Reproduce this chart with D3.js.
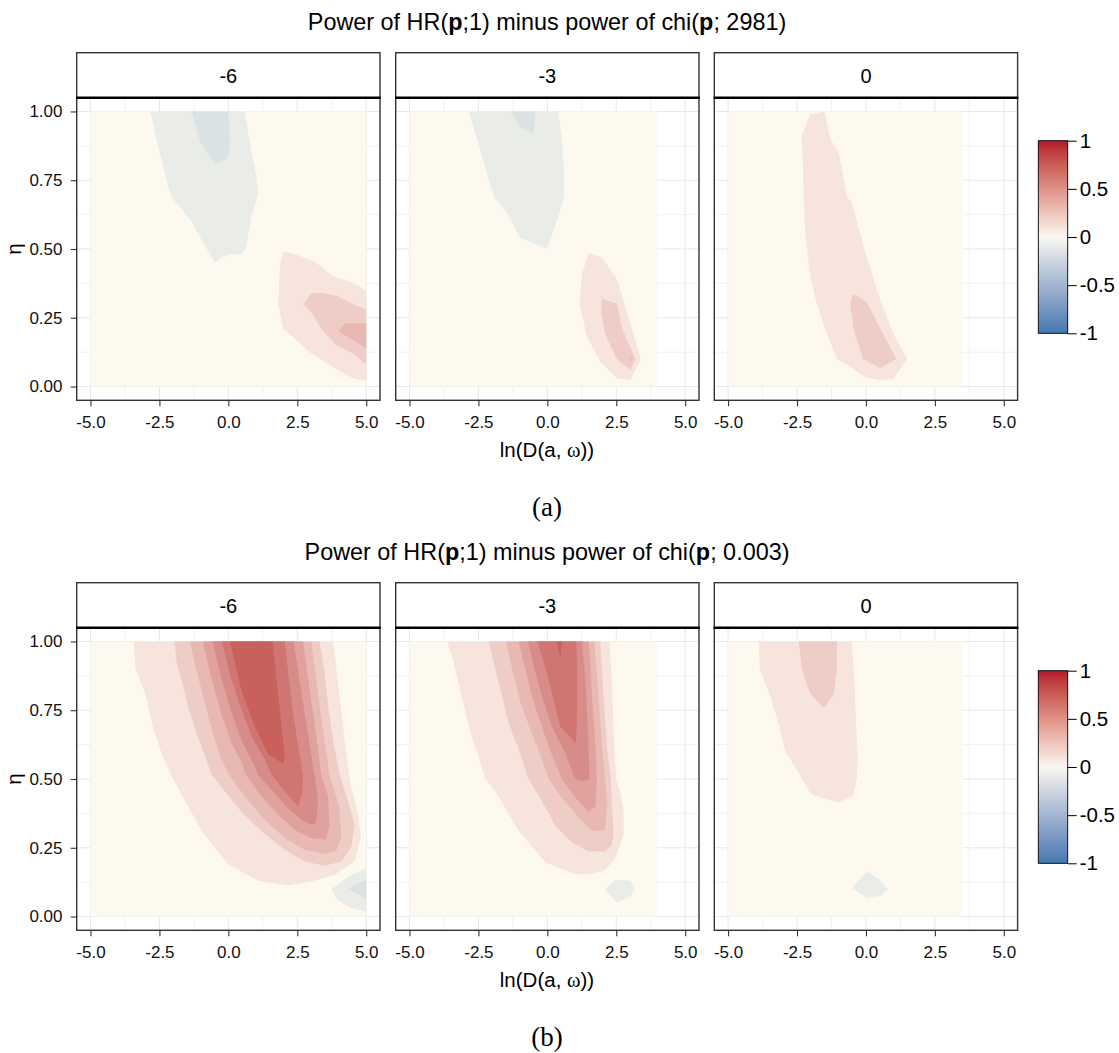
<!DOCTYPE html>
<html>
<head>
<meta charset="utf-8">
<script src="https://cdn.jsdelivr.net/npm/d3@7"></script>
<style>
  body { margin: 0; background: #fff; }
</style>
</head>
<body>
<div id="chart"></div>
<script>
// facet labels and how far the computed grid goes in x for each facet
const facets = ["-6", "-3", "0"];
const gridXMax = [5, 4, 3.5];

const xTicks = [-5, -2.5, 0, 2.5, 5];
const xMinor = [-3.75, -1.25, 1.25, 3.75];
const yTicks = [0, 0.25, 0.5, 0.75, 1];
const yMinor = [0.125, 0.375, 0.625, 0.875];
const legendTicks = [1, 0.5, 0, -0.5, -1];

const titleEnds = ["2981", "0.003"];
const figLabels = ["(a)", "(b)"];

// fill of each contour level as it shows in the picture
const levels = [-0.2, -0.1, 0, 0.1, 0.2, 0.3, 0.4, 0.5, 0.6, 0.7];
const levelColors = ["#dae2e4", "#eaece8", "#fdf9ef", "#f6e4dd", "#efcdc7", "#e8b8b3", "#e0a29f", "#d88c89", "#cf7672", "#c8605c"];

// contour bands: region where value >= level (or <= level for negatives)
const bandsA6 = [
  {level: -0.1, pts: [[-2.83,1.0],[-2.49,0.85],[-2.11,0.70],[-1.99,0.68],[-1.33,0.60],[-0.90,0.52],[-0.48,0.45],[-0.24,0.47],[0.0,0.48],[0.48,0.48],[0.64,0.50],[0.84,0.62],[1.08,0.70],[1.02,0.76],[0.76,0.90],[0.60,1.0]]},
  {level: -0.2, pts: [[-1.33,1.0],[-1.02,0.89],[-0.48,0.81],[0.0,0.83],[0.06,0.90],[0.0,1.0]]},
  {level: 0.1, pts: [[1.99,0.49],[2.47,0.48],[3.19,0.45],[3.80,0.40],[4.46,0.38],[5.0,0.35],[5.0,0.02],[4.52,0.03],[3.80,0.07],[3.01,0.12],[2.35,0.18],[1.99,0.21],[1.81,0.30],[1.87,0.44]]},
  {level: 0.2, pts: [[2.73,0.30],[3.01,0.34],[3.43,0.34],[3.92,0.33],[4.52,0.30],[5.0,0.28],[5.0,0.08],[4.52,0.12],[3.92,0.15],[3.37,0.21],[3.01,0.27]]},
  {level: 0.3, pts: [[3.98,0.20],[4.22,0.23],[5.0,0.23],[5.0,0.14]]}
];
const bandsA3 = [
  {level: -0.1, pts: [[-2.85,1.0],[-2.55,0.90],[-1.94,0.69],[-1.52,0.64],[-0.98,0.54],[-0.01,0.50],[0.47,0.64],[0.62,0.69],[0.59,0.81],[0.53,0.90],[0.39,1.0]]},
  {level: -0.2, pts: [[-1.32,1.0],[-0.95,0.94],[-0.50,0.92],[-0.43,1.0]]},
  {level: 0.1, pts: [[1.50,0.485],[1.98,0.47],[2.52,0.39],[2.89,0.27],[3.39,0.10],[3.01,0.024],[2.52,0.03],[1.92,0.09],[1.44,0.18],[1.17,0.30],[1.26,0.41]]},
  {level: 0.2, pts: [[1.98,0.32],[2.52,0.30],[2.71,0.21],[3.19,0.10],[3.01,0.06],[2.52,0.10],[2.10,0.19],[1.95,0.27]]},
  {level: 0.3, pts: [[2.95,0.105],[3.06,0.11],[3.03,0.09]]}
];
const bandsA0 = [
  {level: 0.1, pts: [[-2.02,0.99],[-1.51,1.0],[-1.29,0.90],[-0.99,0.85],[-0.69,0.69],[-0.51,0.67],[-0.02,0.485],[0.52,0.315],[1.0,0.19],[1.49,0.10],[1.0,0.027],[0.52,0.024],[-0.02,0.034],[-0.51,0.067],[-1.05,0.10],[-1.41,0.19],[-1.78,0.30],[-2.02,0.40],[-2.20,0.56],[-2.26,0.68],[-2.29,0.82],[-2.34,0.91]]},
  {level: 0.2, pts: [[-0.47,0.337],[0.01,0.31],[0.52,0.21],[1.10,0.10],[0.52,0.067],[-0.11,0.10],[-0.45,0.21],[-0.57,0.30]]}
];
const bandsB6 = [
  {level: 0.1, pts: [[-3.43,1.0],[-3.37,0.90],[-3.01,0.81],[-2.95,0.79],[-2.77,0.70],[-2.41,0.59],[-2.05,0.51],[-1.57,0.42],[-0.96,0.31],[0.0,0.19],[1.08,0.13],[2.17,0.113],[3.01,0.127],[3.86,0.152],[4.58,0.20],[4.80,0.29],[4.70,0.37],[4.46,0.467],[4.40,0.50],[4.22,0.64],[4.08,0.76],[3.92,0.90],[3.80,1.0]]},
  {level: 0.2, pts: [[-1.96,1.0],[-1.87,0.92],[-1.69,0.86],[-1.45,0.76],[-1.20,0.68],[-0.84,0.58],[-0.60,0.515],[-0.12,0.455],[0.48,0.38],[1.20,0.31],[2.05,0.242],[2.77,0.20],[3.49,0.185],[4.10,0.20],[4.46,0.255],[4.58,0.333],[4.34,0.418],[4.04,0.515],[3.80,0.64],[3.63,0.76],[3.47,0.90],[3.31,1.0]]},
  {level: 0.3, pts: [[-1.39,1.0],[-1.20,0.91],[-0.96,0.82],[-0.66,0.70],[-0.30,0.58],[0.02,0.515],[0.60,0.436],[1.32,0.351],[2.05,0.285],[2.77,0.242],[3.49,0.227],[3.92,0.24],[4.10,0.29],[4.02,0.40],[3.67,0.515],[3.40,0.70],[3.19,0.86],[3.01,1.0]]},
  {level: 0.4, pts: [[-0.93,1.0],[-0.60,0.86],[-0.24,0.73],[0.12,0.63],[0.48,0.56],[0.63,0.515],[1.20,0.436],[1.81,0.37],[2.41,0.315],[3.01,0.285],[3.55,0.279],[3.67,0.333],[3.61,0.44],[3.37,0.515],[3.13,0.70],[2.90,0.86],[2.71,1.0]]},
  {level: 0.5, pts: [[-0.57,1.0],[-0.24,0.86],[0.12,0.74],[0.48,0.64],[0.96,0.545],[1.08,0.515],[1.57,0.46],[2.17,0.394],[2.65,0.352],[3.07,0.333],[3.19,0.345],[3.25,0.42],[3.13,0.515],[2.86,0.68],[2.58,0.86],[2.37,1.0]]},
  {level: 0.6, pts: [[-0.24,1.0],[0.12,0.86],[0.48,0.75],[0.84,0.655],[1.33,0.57],[1.57,0.515],[2.05,0.455],[2.53,0.40],[2.68,0.455],[2.71,0.515],[2.53,0.62],[2.35,0.74],[2.17,0.885],[2.05,1.0]]},
  {level: 0.7, pts: [[0.06,1.0],[0.48,0.82],[0.96,0.69],[1.45,0.59],[1.99,0.555],[2.05,0.58],[1.93,0.69],[1.75,0.86],[1.60,1.0]]},
  {level: -0.1, pts: [[3.73,0.097],[4.34,0.145],[5.0,0.176],[5.0,0.018],[4.46,0.03],[3.98,0.06]]},
  {level: -0.2, pts: [[4.34,0.10],[5.0,0.135],[5.0,0.065]]}
];
const bandsB3 = [
  {level: 0.1, pts: [[-3.64,1.0],[-3.45,0.945],[-3.15,0.82],[-2.91,0.715],[-2.67,0.63],[-2.43,0.56],[-2.25,0.50],[-1.88,0.455],[-1.52,0.394],[-1.10,0.32],[-0.50,0.248],[-0.05,0.196],[0.65,0.168],[1.01,0.155],[1.50,0.154],[2.04,0.166],[2.45,0.21],[2.77,0.297],[2.77,0.38],[2.64,0.455],[2.49,0.50],[2.40,0.68],[2.34,0.86],[2.25,1.0]]},
  {level: 0.2, pts: [[-2.13,1.0],[-1.94,0.92],[-1.64,0.80],[-1.40,0.70],[-1.04,0.61],[-0.68,0.50],[-0.31,0.44],[0.29,0.33],[0.89,0.27],[1.50,0.236],[2.10,0.236],[2.34,0.26],[2.40,0.30],[2.34,0.40],[2.30,0.50],[2.16,0.62],[2.04,0.80],[1.92,1.0]]},
  {level: 0.3, pts: [[-1.50,1.0],[-1.28,0.90],[-0.98,0.78],[-0.62,0.68],[-0.19,0.57],[0.05,0.50],[0.53,0.43],[1.14,0.36],[1.62,0.31],[2.10,0.315],[2.16,0.42],[2.10,0.50],[1.98,0.62],[1.86,0.80],[1.70,1.0]]},
  {level: 0.4, pts: [[-1.04,1.0],[-0.80,0.90],[-0.50,0.78],[-0.13,0.67],[0.23,0.57],[0.53,0.50],[0.95,0.44],[1.50,0.38],[1.74,0.40],[1.80,0.50],[1.74,0.62],[1.62,0.80],[1.50,1.0]]},
  {level: 0.5, pts: [[-0.70,1.0],[-0.43,0.885],[-0.19,0.80],[0.17,0.69],[0.65,0.594],[1.01,0.50],[1.25,0.49],[1.53,0.50],[1.47,0.68],[1.38,0.86],[1.26,1.0]]},
  {level: 0.6, pts: [[-0.35,1.0],[0.05,0.86],[0.47,0.69],[1.04,0.63],[1.08,0.74],[1.08,0.92],[1.04,1.0]]},
  {level: 0.7, pts: [[0.35,1.0],[0.53,1.0],[0.47,0.945]]},
  {level: -0.1, pts: [[2.10,0.097],[2.46,0.133],[3.01,0.13],[3.16,0.10],[3.01,0.073],[2.52,0.051]]}
];
const bandsB0 = [
  {level: 0.1, pts: [[-3.89,1.0],[-3.85,0.897],[-3.47,0.80],[-3.16,0.70],[-2.92,0.60],[-2.50,0.533],[-2.02,0.448],[-1.53,0.43],[-0.99,0.415],[-0.47,0.44],[-0.33,0.497],[-0.30,0.58],[-0.35,0.69],[-0.42,0.86],[-0.51,1.0]]},
  {level: 0.2, pts: [[-2.44,1.0],[-2.32,0.897],[-2.02,0.81],[-1.51,0.758],[-1.17,0.81],[-1.05,0.897],[-1.05,1.0]]},
  {level: -0.1, pts: [[-0.51,0.103],[0.04,0.164],[0.52,0.133],[0.79,0.097],[0.52,0.075],[0.04,0.067]]}
];

const figBands = [[bandsA6, bandsA3, bandsA0], [bandsB6, bandsB3, bandsB0]];

const W = 1119, H = 1053;
const panelLeft = [76.7, 395.7, 714.3];
const panelW = 303.3;
const figTop = [0, 530];
const stripTop = 52.7, plotTop = 97.7, plotBottom = 400.3;
const midX = 547;
const sans = "'Liberation Sans', Arial, sans-serif";

const bandFill = d3.scaleOrdinal().domain(levels).range(levelColors);

// continuous scale for the colour bar
const barFill = d3.scaleLinear()
  .domain([-1, 0, 1])
  .range(["#4378b0", "#f9f7f1", "#b2182b"])
  .interpolate(d3.interpolateLab);

const svg = d3.select("#chart").append("svg")
  .attr("width", W)
  .attr("height", H)
  .style("font-family", sans);

const grad = svg.append("defs").append("linearGradient")
  .attr("id", "cbar")
  .attr("x1", 0).attr("y1", 1).attr("x2", 0).attr("y2", 0);
d3.range(0, 1.0001, 0.05).forEach(t => {
  grad.append("stop").attr("offset", t).attr("stop-color", barFill(-1 + 2 * t));
});

figBands.forEach((panels, fi) => {
  const g = svg.append("g").attr("transform", "translate(0," + figTop[fi] + ")");

  const title = g.append("text")
    .attr("x", midX).attr("y", 29.5)
    .attr("text-anchor", "middle")
    .style("font-size", "23.4px")
    .attr("fill", "#000");
  title.append("tspan").text("Power of HR(");
  title.append("tspan").style("font-weight", "bold").text("p");
  title.append("tspan").text(";1) minus power of chi(");
  title.append("tspan").style("font-weight", "bold").text("p");
  title.append("tspan").text("; " + titleEnds[fi] + ")");

  const y = d3.scaleLinear().domain([-0.05, 1.05]).range([plotBottom, plotTop]);

  panels.forEach((bands, pi) => {
    const x0 = panelLeft[pi];
    const x = d3.scaleLinear().domain([-5.5, 5.5]).range([x0, x0 + panelW]);
    const p = g.append("g");

    // grid lines
    p.selectAll(".gxm").data(xMinor).enter().append("line")
      .attr("x1", d => x(d)).attr("x2", d => x(d))
      .attr("y1", plotTop).attr("y2", plotBottom)
      .attr("stroke", "#ececec").attr("stroke-width", 0.7);
    p.selectAll(".gym").data(yMinor).enter().append("line")
      .attr("x1", x0).attr("x2", x0 + panelW)
      .attr("y1", d => y(d)).attr("y2", d => y(d))
      .attr("stroke", "#ececec").attr("stroke-width", 0.7);
    p.selectAll(".gx").data(xTicks).enter().append("line")
      .attr("x1", d => x(d)).attr("x2", d => x(d))
      .attr("y1", plotTop).attr("y2", plotBottom)
      .attr("stroke", "#e8e8e8").attr("stroke-width", 1.1);
    p.selectAll(".gy").data(yTicks).enter().append("line")
      .attr("x1", x0).attr("x2", x0 + panelW)
      .attr("y1", d => y(d)).attr("y2", d => y(d))
      .attr("stroke", "#e8e8e8").attr("stroke-width", 1.1);

    // zero band covers the whole grid
    p.append("rect")
      .attr("x", x(-5)).attr("y", y(1))
      .attr("width", x(gridXMax[pi]) - x(-5))
      .attr("height", y(0) - y(1))
      .attr("fill", bandFill(0));

    const line = d3.line()
      .x(d => x(d[0])).y(d => y(d[1]))
      .curve(d3.curveLinearClosed);

    p.selectAll(".band")
      .data(bands.slice().sort((a, b) => Math.abs(a.level) - Math.abs(b.level)))
      .enter().append("path")
      .attr("d", d => line(d.pts))
      .attr("fill", d => bandFill(d.level));

    // panel border
    p.append("rect")
      .attr("x", x0).attr("y", plotTop)
      .attr("width", panelW).attr("height", plotBottom - plotTop)
      .attr("fill", "none").attr("stroke", "#333").attr("stroke-width", 1.4);

    // strip
    p.append("rect")
      .attr("x", x0).attr("y", stripTop)
      .attr("width", panelW).attr("height", plotTop - stripTop)
      .attr("fill", "#fff").attr("stroke", "#333").attr("stroke-width", 1.4);
    p.append("line")
      .attr("x1", x0 - 0.7).attr("x2", x0 + panelW + 0.7)
      .attr("y1", plotTop).attr("y2", plotTop)
      .attr("stroke", "#000").attr("stroke-width", 2.6);
    p.append("text")
      .attr("x", x0 + panelW / 2).attr("y", 82.8)
      .attr("text-anchor", "middle")
      .style("font-size", "20px")
      .text(facets[pi]);

    // x axis
    const xa = p.append("g")
      .attr("transform", "translate(0," + plotBottom + ")")
      .call(d3.axisBottom(x).tickValues(xTicks).tickSize(6).tickPadding(9.5)
        .tickFormat(d => d.toFixed(1)));
    xa.select(".domain").remove();
    xa.selectAll("line").attr("stroke", "#333").attr("stroke-width", 1.1);
    xa.selectAll("text").style("font-size", "17px").attr("fill", "#111")
      .style("font-family", sans);

    if (pi === 0) {
      const ya = p.append("g")
        .attr("transform", "translate(" + x0 + ",0)")
        .call(d3.axisLeft(y).tickValues(yTicks).tickSize(6).tickPadding(8.2)
          .tickFormat(d => d.toFixed(2)));
      ya.select(".domain").remove();
      ya.selectAll("line").attr("stroke", "#333").attr("stroke-width", 1.1);
      ya.selectAll("text").style("font-size", "17px").attr("fill", "#111")
        .style("font-family", sans);
    }
  });

  // axis titles
  const xt = g.append("text")
    .attr("x", midX).attr("y", 456.5)
    .attr("text-anchor", "middle")
    .style("font-size", "20.5px");
  xt.append("tspan").text("ln(D(a, ");
  xt.append("tspan").style("font-family", "'Liberation Serif', serif").text("ω");
  xt.append("tspan").text("))");

  g.append("text")
    .attr("transform", "translate(21," + (plotTop + plotBottom) / 2 + ") rotate(-90)")
    .attr("text-anchor", "middle")
    .style("font-size", "20.5px")
    .text("η");

  // colour bar
  const ly = d3.scaleLinear().domain([-1, 1]).range([333.3, 140.7]);
  g.append("rect")
    .attr("x", 1038.3).attr("y", ly(1))
    .attr("width", 29.4).attr("height", ly(-1) - ly(1))
    .attr("fill", "url(#cbar)")
    .attr("stroke", "#000").attr("stroke-width", 0.9);
  const la = g.append("g")
    .attr("transform", "translate(1067.7,0)")
    .call(d3.axisRight(ly).tickValues(legendTicks).tickSize(9).tickPadding(3)
      .tickFormat(d => String(d)));
  la.select(".domain").remove();
  la.selectAll("line").attr("stroke", "#000").attr("stroke-width", 1);
  la.selectAll("text").style("font-size", "20.5px").attr("fill", "#000")
    .style("font-family", sans);

  // sub-figure label
  g.append("text")
    .attr("x", midX).attr("y", 516)
    .attr("text-anchor", "middle")
    .style("font-family", "'Liberation Serif', 'DejaVu Serif', serif")
    .style("font-size", "27px")
    .text(figLabels[fi]);
});
</script>
</body>
</html>
